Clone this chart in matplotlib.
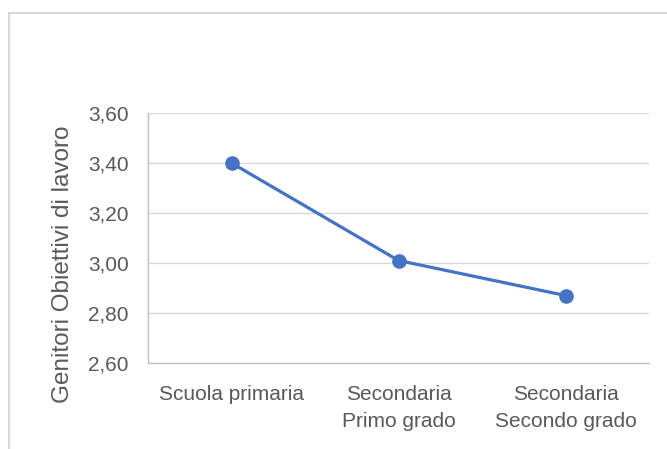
import matplotlib.pyplot as plt
from matplotlib.lines import Line2D
from matplotlib.ticker import FuncFormatter

categorie = ['Scuola primaria', 'Secondaria\nPrimo grado', 'Secondaria\nSecondo grado']
valori = [3.40, 3.01, 2.87]
yticks = [2.60, 2.80, 3.00, 3.20, 3.40, 3.60]

plt.rcParams['font.family'] = ['Liberation Sans', 'DejaVu Sans']
grigio = '#595959'

fig = plt.figure(figsize=(6.67, 4.49), dpi=100)
ax = fig.add_axes([148 / 667, 1 - 363 / 449, 501 / 667, 250 / 449])

x = range(len(categorie))
ax.plot(x, valori, color='#4472C4', linewidth=2.3, marker='o', markersize=9.5)

ax.set_xlim(-0.5, len(categorie) - 0.5)
ax.set_ylim(2.60, 3.60)
ax.set_yticks(yticks)
ax.yaxis.set_major_formatter(FuncFormatter(lambda v, p: f'{v:.2f}'.replace('.', ',')))
ax.set_xticks(list(x))
ax.set_xticklabels(categorie, linespacing=1.55)

ax.grid(axis='y', color='#D9D9D9', linewidth=1.0)
ax.set_axisbelow(True)
for s in ['top', 'right']:
    ax.spines[s].set_visible(False)
for s in ['left', 'bottom']:
    ax.spines[s].set_color('#BFBFBF')
    ax.spines[s].set_linewidth(1.0)
ax.tick_params(length=0, colors=grigio, labelsize=15)
ax.tick_params(axis='x', pad=16)
ax.tick_params(axis='y', pad=14)

fig.text(63 / 667, 1 - 264 / 449, 'Genitori Obiettivi di lavoro', rotation=90,
         ha='center', va='center', color=grigio, fontsize=17.5)

# cornice esterna del grafico (solo lati superiore e sinistro visibili)
fig.add_artist(Line2D([9 / 667, 1.0], [1 - 13 / 449, 1 - 13 / 449], color='#D9D9D9', linewidth=1.5))
fig.add_artist(Line2D([9 / 667, 9 / 667], [0.0, 1 - 13 / 449], color='#D9D9D9', linewidth=1.5))

fig.savefig('out.png', dpi=100)
